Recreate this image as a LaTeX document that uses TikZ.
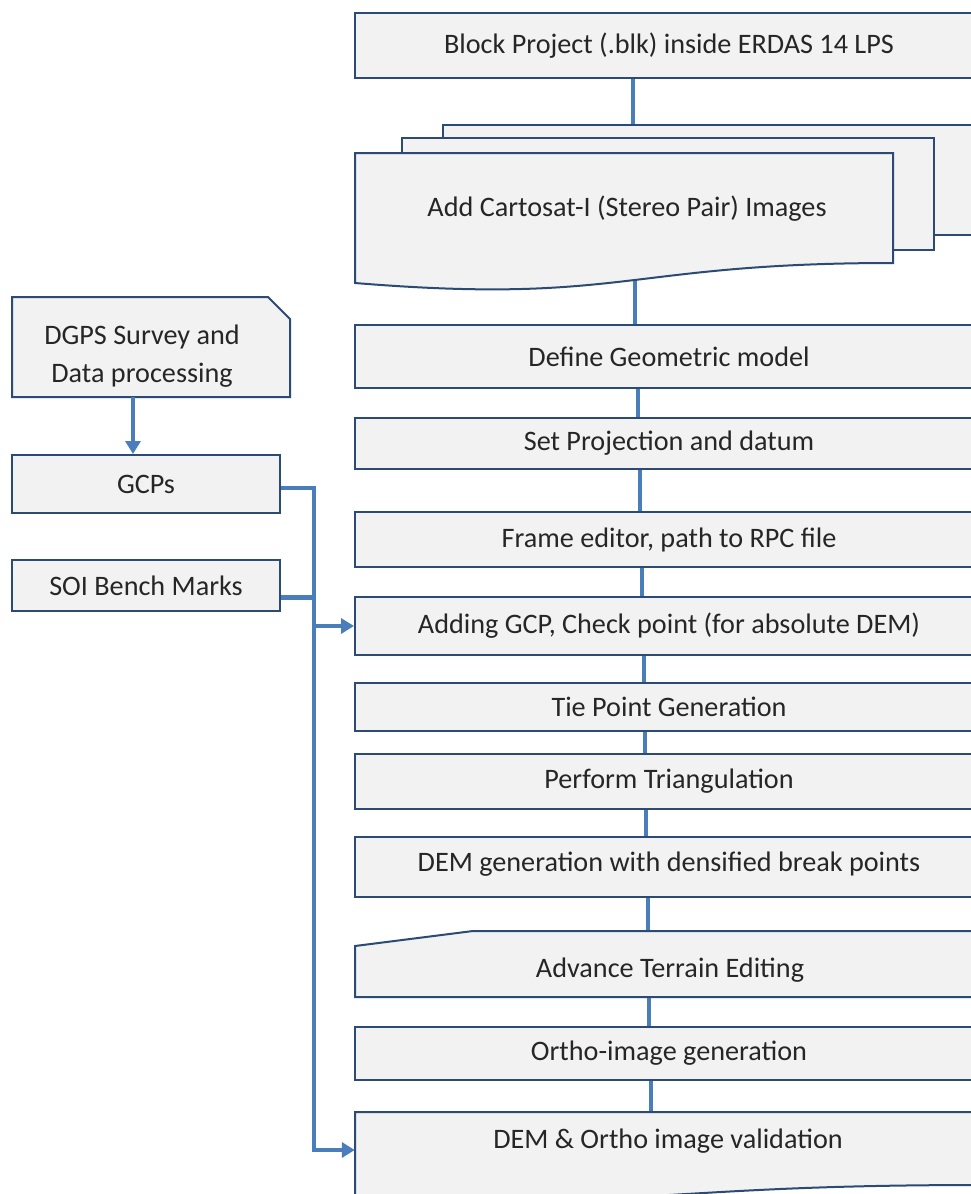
\documentclass[tikz,border=0pt]{standalone}
\usepackage{fontspec}
\setmainfont{Carlito}
\usetikzlibrary{arrows.meta,backgrounds}
\definecolor{boxfill}{HTML}{F2F2F2}
\definecolor{boxline}{HTML}{2B4A74}
\definecolor{flow}{HTML}{4A7EBB}
\definecolor{ink}{HTML}{262626}

\begin{document}
\begin{tikzpicture}[x=1pt,y=-1pt,
  font=\fontsize{28.2}{34}\selectfont,
  every node/.style={text=ink},
  stage/.style={draw=boxline, line width=2pt, fill=boxfill, minimum width=628pt, inner sep=0pt},
  frame/.style={minimum width=628pt, inner sep=0pt},
  side/.style={draw=boxline, line width=2pt, fill=boxfill, minimum width=268pt, inner sep=0pt},
  sheet/.style={draw=boxline, line width=2pt, fill=boxfill, line join=miter},
  link/.style={draw=flow, line width=3.5pt},
  wire/.style={draw=flow, line width=4.5pt, line join=miter},
  tip/.style={-{Triangle[length=13pt,width=15pt]}}]

\useasboundingbox (0,0) rectangle (971,1194);
\clip (0,0) rectangle (971,1194);

% ---- main column -------------------------------------------------
\node[stage, minimum height=65pt] (blk) at (669,45.5) {Block Project (.blk) inside ERDAS 14 LPS};

% stacked image sheets
\path[sheet] (443,125) rectangle (990,235);
\path[sheet] (402,138) rectangle (934,250);
\path[sheet] (355,153) -- (893,153) -- (893,263)
  .. controls (624,263) and (624,305) .. (355,283) -- cycle;
\node (cart) at (627,209) {Add Cartosat-I (Stereo Pair) Images};

\node[stage, minimum height=63pt] (def) at (669,356.5) {Define Geometric model};
\node[stage, minimum height=51pt] (proj) at (669,443.5) {Set Projection and datum};
\node[stage, minimum height=55pt] (fram) at (669,539.5) {Frame editor, path to RPC file};
\node[stage, minimum height=58pt] (gcp) at (669,626) {Adding GCP, Check point (for absolute DEM)};
\node[stage, minimum height=48pt] (tie) at (669,706.5) {Tie Point Generation};
\node[stage, minimum height=55pt] (tri) at (669,781) {Perform Triangulation};
\node[stage, minimum height=60pt] (dem) at (669,867) {};
\node (demT) at (669,864) {DEM generation with densified break points};

% manual-input step
\node[frame, minimum height=66pt] (adv) at (669,964) {};
\path[sheet] (355,946) -- (473,931) -- (990,931) -- (990,997) -- (355,997) -- cycle;
\node (advT) at (670,970) {Advance Terrain Editing};

\node[stage, minimum height=53pt] (ortho) at (669,1053.5) {Ortho-image generation};

% document-shaped final step
\node[frame, minimum height=80pt] (val) at (669,1152) {};
\path[sheet] (355,1112) -- (990,1112) -- (990,1185) -- (983,1185)
  .. controls (669,1185) and (669,1207) .. (355,1199) -- cycle;
\node (valT) at (668,1141) {DEM \& Ortho image validation};

% ---- field data --------------------------------------------------
\node[minimum width=278pt, minimum height=100pt, inner sep=0pt] (dgps) at (151,347) {};
\path[sheet] (12,297) -- (268,297) -- (290,319) -- (290,397) -- (12,397) -- cycle;
\node[align=center, font=\fontsize{28.2}{38}\selectfont] (dgpsT) at (142,356)
  {DGPS Survey and\\Data processing};
\node[side, minimum height=58pt] (gcps) at (146,484) {GCPs};
\node[side, minimum height=51pt] (soi) at (146,585.5) {SOI Bench Marks};

\coordinate (busTop) at (314,488);
\coordinate (busBot) at (314,1150);

% ---- connectors --------------------------------------------------
\begin{scope}[on background layer]
  \draw[link] ([xshift=-36pt]blk.south) -- ([xshift=-36pt]blk.south |- cart.center);
  \draw[link] ([xshift=-34pt]def.north |- cart.center) -- ([xshift=-34pt]def.north);
  \draw[link] ([xshift=-31pt]def.south) -- ([xshift=-31pt]def.south |- proj.north);
  \draw[link] ([xshift=-29pt]proj.south) -- ([xshift=-29pt]proj.south |- fram.north);
  \draw[link] ([xshift=-27pt]fram.south) -- ([xshift=-27pt]fram.south |- gcp.north);
  \draw[link] ([xshift=-25pt]gcp.south) -- ([xshift=-25pt]gcp.south |- tie.north);
  \draw[link] ([xshift=-24pt]tie.south) -- ([xshift=-24pt]tie.south |- tri.north);
  \draw[link] ([xshift=-23pt]tri.south) -- ([xshift=-23pt]tri.south |- dem.north);
  \draw[link] ([xshift=-21pt]dem.south) -- ([xshift=-21pt]dem.south |- adv.north);
  \draw[link] ([xshift=-20pt]adv.south) -- ([xshift=-20pt]adv.south |- ortho.north);
  \draw[link] ([xshift=-18pt]ortho.south) -- ([xshift=-18pt]ortho.south |- val.north);
\end{scope}

\draw[wire, tip] ([xshift=-18pt]dgps.south) -- ([xshift=-18pt]dgps.south |- gcps.north);
\draw[wire, tip] ([yshift=-4pt]gcps.east) -| (busBot) -- (busBot -| val.west);
\draw[wire] ([yshift=-12pt]soi.east) -- ([yshift=-12pt]soi.east -| busTop);
\draw[wire, tip] (busTop |- gcp.west) -- (gcp.west);
\end{tikzpicture}
\end{document}
